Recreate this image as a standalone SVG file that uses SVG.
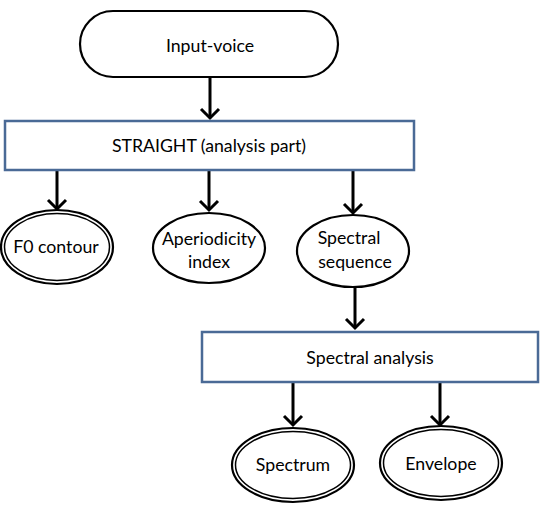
<svg xmlns="http://www.w3.org/2000/svg" width="544" height="510" viewBox="0 0 544 510">
<defs>
<style>
text{font-family:"Lato","Liberation Sans",sans-serif;font-size:17.7px;fill:#000;text-anchor:middle}
.box{fill:#fff;stroke:#4a6a96;stroke-width:2.5}
.ell{fill:#fff;stroke:#000;stroke-width:2.2}
.ell2{fill:none;stroke:#000;stroke-width:1.5}
.edge{stroke:#000;stroke-width:3;fill:none}
</style>
<marker id="ah" markerWidth="22" markerHeight="22" viewBox="-11 -11 22 22" refX="0" refY="0" orient="auto" markerUnits="userSpaceOnUse">
<path d="M-9,-9 L0,0 L-9,9" fill="none" stroke="#000" stroke-width="3"/>
</marker>
</defs>
<rect width="544" height="510" fill="#fff"/>
<g id="connectors">
<line class="edge" x1="210" y1="77" x2="210" y2="118" marker-end="url(#ah)"/>
<line class="edge" x1="57" y1="170" x2="57" y2="209" marker-end="url(#ah)"/>
<line class="edge" x1="209" y1="170" x2="209" y2="210" marker-end="url(#ah)"/>
<line class="edge" x1="353" y1="170" x2="353" y2="213" marker-end="url(#ah)"/>
<line class="edge" x1="355" y1="287" x2="355" y2="328" marker-end="url(#ah)"/>
<line class="edge" x1="293" y1="382" x2="293" y2="425" marker-end="url(#ah)"/>
<line class="edge" x1="440" y1="382" x2="440" y2="425" marker-end="url(#ah)"/>
</g>
<g id="input-voice">
<rect x="80" y="11" width="258" height="66" rx="33" ry="33" fill="#fff" stroke="#000" stroke-width="2.2"/>
<text x="210" y="52">Input-voice</text>
</g>
<g id="straight">
<rect class="box" x="5" y="121" width="409" height="49"/>
<text x="209" y="152">STRAIGHT (analysis part)</text>
</g>
<g id="f0">
<ellipse class="ell" cx="57" cy="247" rx="56" ry="37"/>
<ellipse class="ell2" cx="57" cy="247" rx="52.5" ry="33.5"/>
<text x="56" y="253">F0 contour</text>
</g>
<g id="aperiodicity">
<ellipse class="ell" cx="209" cy="248" rx="56" ry="35"/>
<text x="209" y="245">Aperiodicity</text>
<text x="209" y="268">index</text>
</g>
<g id="spectral-sequence">
<ellipse class="ell" cx="353" cy="251" rx="56" ry="36"/>
<text x="349" y="244">Spectral</text>
<text x="355" y="268">sequence</text>
</g>
<g id="spectral-analysis">
<rect class="box" x="202" y="332" width="336" height="50"/>
<text x="370" y="364">Spectral analysis</text>
</g>
<g id="spectrum">
<ellipse class="ell" cx="293" cy="465" rx="61" ry="37"/>
<ellipse class="ell2" cx="293" cy="465" rx="57.5" ry="33.5"/>
<text x="293" y="471">Spectrum</text>
</g>
<g id="envelope">
<ellipse class="ell" cx="441" cy="463" rx="61" ry="37"/>
<ellipse class="ell2" cx="441" cy="463" rx="57.5" ry="33.5"/>
<text x="441" y="470">Envelope</text>
</g>
</svg>
